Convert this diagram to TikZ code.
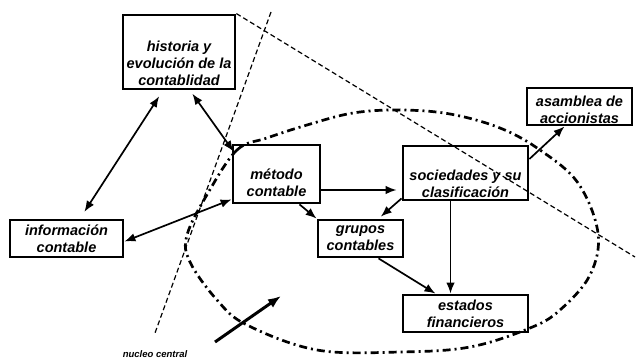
\documentclass[tikz,border=0pt]{standalone}
\usepackage{fontspec}
\setmainfont{Liberation Sans}
\usetikzlibrary{arrows.meta}
\newcommand{\cajafont}{\bfseries\itshape\fontsize{14.5}{17}\selectfont}
\begin{document}
\begin{tikzpicture}[x=1pt,y=-1pt,
	caja/.style={draw,line width=2.8pt,inner sep=0pt,align=center,font=\cajafont},
	texto/.style={inner sep=0pt,align=center,font=\cajafont},
	link/.style={line width=1.7pt,arrows={-Latex[length=11pt,width=8.5pt]}},
	dlink/.style={line width=1.7pt,arrows={Latex[length=11pt,width=8.5pt]-Latex[length=11pt,width=8.5pt]}},
	guia/.style={line width=1.2pt,dash pattern=on 5pt off 3pt},
	nucleo/.style={line width=2.7pt,dash pattern=on 8pt off 4pt on 2pt off 4pt}]
	
	\useasboundingbox (0,0) rectangle (636,361);
	
	% cajas
	\node[caja,minimum width=112pt,minimum height=74pt,
	label={[texto,yshift=-11.5pt]center:{historia y\\evolución de la\\contablidad}}] (historia) at (179,52) {};
	\node[caja,minimum width=87pt,minimum height=58pt,
	label={[texto,yshift=-9pt]center:{método\\contable}}] (metodo) at (276.5,174) {};
	\node[caja,minimum width=125pt,minimum height=54pt,
	label={[texto,yshift=-11pt]center:{sociedades y su\\clasificación}}] (sociedades) at (465.5,173) {};
	\node[caja,minimum width=105pt,minimum height=37pt,
	label={[texto,yshift=-3.5pt]center:{asamblea de\\accionistas}}] (asamblea) at (579.5,106.5) {};
	\node[caja,minimum width=113pt,minimum height=37pt] (informacion) at (66.5,238.5) {información\\contable};
	\node[caja,minimum width=85pt,minimum height=37pt] (grupos) at (360.5,238.5) {grupos\\contables};
	\node[caja,minimum width=125pt,minimum height=37pt] (estados) at (465.5,313.5) {estados\\financieros};
	
	% lineas de corte
	\coordinate (c1) at (635,257);
	\coordinate (c2) at (271,12);
	\coordinate (c3) at (155,333);
	\draw[guia] (historia.north east) -- (c1);
	\draw[guia] (c2) -- (c3);
	
	% nucleo
	\draw[nucleo] plot [smooth cycle,tension=0.6] coordinates {(208,193) (237,150) (267,138) (307,125) (353,113) (400,110) (450,114) (500,128) (540,150) (578,183) (598,233) (590,275) (560,310) (530,328) (470,347) (400,352) (317,350) (247,325) (217,300) (190,262) (187,235)};
	
	% conexiones
	\draw[dlink,shorten <=7pt,shorten >=8pt] ([xshift=-16pt]historia.south) -- ([xshift=13.5pt]informacion.north);
	\draw[dlink,shorten <=4pt] ([xshift=11pt]historia.south) -- ([shift={(2,8)}]metodo.north west);
	\draw[dlink] ([yshift=-3pt]informacion.east) -- ([yshift=5pt]metodo.south west);
	\draw[link,shorten >=5pt] ([yshift=-16pt]metodo.east) -- ([yshift=-16pt]metodo.east -| sociedades.west);
	\draw[link] ([xshift=23pt]metodo.south) -- (grupos.north west);
	\draw[link,shorten >=3pt] ([yshift=3pt]sociedades.south west) -- ([xshift=18pt]grupos.north);
	\draw[link] ([xshift=-15pt]sociedades.south) -- ([xshift=-15pt]estados.north);
	\draw[link] ([xshift=18pt]grupos.south) -- ([xshift=-30pt]estados.north);
	\draw[link] ([yshift=14pt]sociedades.east) -- ([xshift=-15pt]asamblea.south);
	
	\coordinate (f1) at (215,342);
	\coordinate (f2) at (281,296);
	\draw[line width=3pt,arrows={-Latex[length=13pt,width=10pt]}] (f1) -- (f2);
	\node[font=\bfseries\itshape\fontsize{9.5}{10}\selectfont] (central) at (155,354) {nucleo central};
	
\end{tikzpicture}
\end{document}
